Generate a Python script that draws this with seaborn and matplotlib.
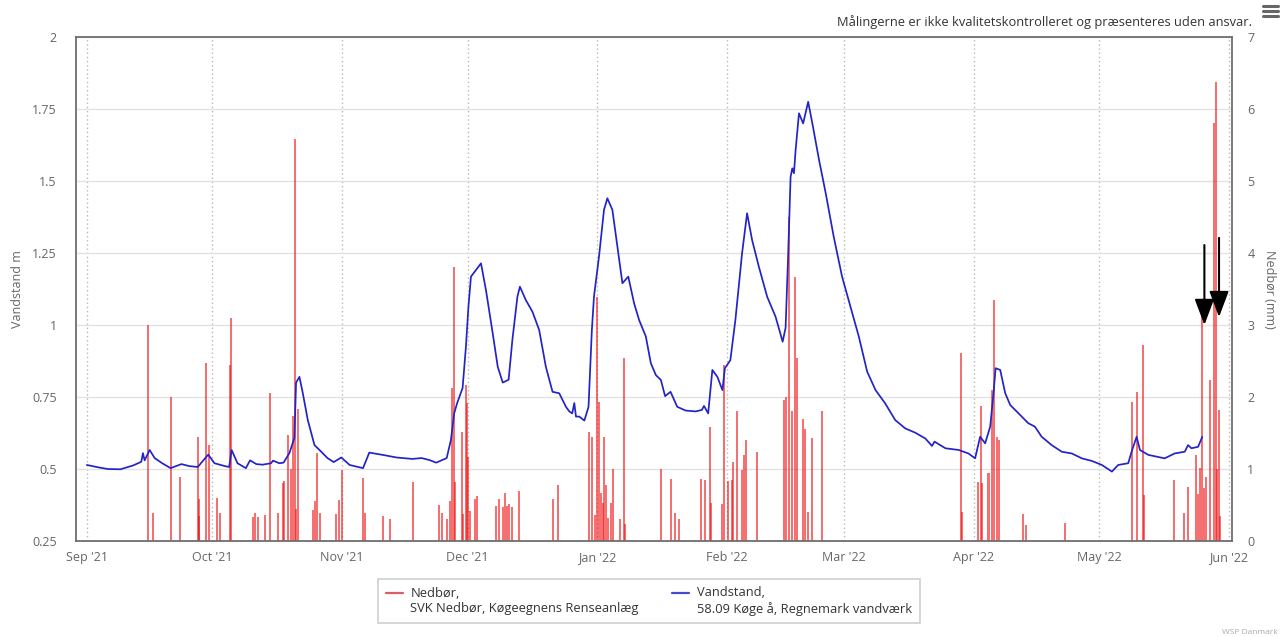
import numpy as np
import pandas as pd
import matplotlib
matplotlib.use("Agg")
import matplotlib.pyplot as plt
import matplotlib.dates as mdates
from matplotlib.lines import Line2D
from matplotlib.legend_handler import HandlerLine2D
import seaborn as sns

# Day offsets are counted from this date
START = pd.Timestamp("2021-09-01")

# Water level (m), Køge å at Regnemark vandværk
level_day = [0, 3, 5, 8, 11, 13, 13.4, 13.8, 15, 16.2, 18, 20, 22.6, 24.5, 26.5, 29, 30.5, 33,
             34, 34.6, 36, 38, 39, 40.5, 42, 44, 44.5, 46, 47, 48.4, 49.6, 50, 50.8, 51.6, 52.8,
             54.4, 55.6, 57.5, 59, 60.8, 62.8, 66, 67.5, 70.7, 74, 77.8, 80, 81.9, 83.5, 86, 87,
             87.8, 88.5, 89.8, 90.6, 91.2, 91.8, 93, 94.2, 95.4, 97, 98.2, 99.4, 100.8, 101.7,
             102.9, 103.5, 104.9, 106.5, 108.1, 109.7, 111.3, 112.9, 114.5, 115.3, 116, 116.5, 116.9,
             117.7, 118.9, 119.9, 120.7, 121.2, 122.4, 123.6, 124.4, 125.6, 126.8, 128, 129.4,
             130.8, 132, 133.6, 134.8, 136, 137.2, 138.2, 139.5, 141.1, 143.1, 145.5, 147, 147.5,
             148.5, 149.5, 150.7, 151.9, 152.5, 153.8, 155, 156.6, 157.8, 159, 160.6, 162.6,
             164.6, 166.3, 167, 167.6, 168.2, 168.6, 169, 169.4, 170.2, 171.2, 172.4, 173.4, 175,
             176.6, 178.5, 180.5, 182.5, 184.5, 186.5, 188.5, 190.8, 193.2, 195.6, 198, 200.4,
             202, 202.6, 205.2, 208.4, 210.7, 212.3, 213.5, 214.7, 215.9, 216.7, 217.2, 218.3,
             219.5, 220.7, 222.7, 225, 226.6, 228.2, 230.6, 233, 235.4, 237.8, 240.2, 242.6, 245,
             246.5, 248.9, 249.7, 250.9, 251.7, 253.7, 257.6, 260, 262.4, 263.2, 264, 265.6, 266.6]
level_m = [0.514, 0.505, 0.50, 0.499, 0.512, 0.525, 0.555, 0.53, 0.566, 0.538, 0.52, 0.503, 0.517,
           0.51, 0.507, 0.55, 0.52, 0.51, 0.507, 0.566, 0.52, 0.503, 0.53, 0.517, 0.515, 0.52,
           0.529, 0.52, 0.522, 0.555, 0.608, 0.80, 0.82, 0.764, 0.67, 0.583, 0.566, 0.538, 0.524,
           0.54, 0.514, 0.503, 0.557, 0.549, 0.54, 0.535, 0.538, 0.531, 0.522, 0.538, 0.60, 0.694,
           0.729, 0.781, 0.925, 1.064, 1.168, 1.191, 1.214, 1.12, 0.971, 0.855, 0.80, 0.81, 0.948,
           1.098, 1.133, 1.087, 1.046, 0.983, 0.855, 0.768, 0.763, 0.716, 0.70, 0.693, 0.729, 0.682,
           0.682, 0.668, 0.716, 0.983, 1.098, 1.237, 1.40, 1.44, 1.40, 1.272, 1.145, 1.168, 1.075,
           1.017, 0.96, 0.867, 0.826, 0.809, 0.753, 0.768, 0.716, 0.703, 0.70, 0.705, 0.719, 0.693,
           0.844, 0.82, 0.774, 0.85, 0.878, 1.017, 1.249, 1.388, 1.295, 1.203, 1.098, 1.029, 0.942,
           0.99, 1.237, 1.515, 1.544, 1.527, 1.608, 1.735, 1.70, 1.775, 1.70, 1.573, 1.457, 1.307,
           1.168, 1.064, 0.96, 0.838, 0.774, 0.728, 0.67, 0.641, 0.626, 0.606, 0.58, 0.595, 0.572,
           0.566, 0.554, 0.537, 0.612, 0.589, 0.647, 0.763, 0.85, 0.844, 0.763, 0.722, 0.693,
           0.659, 0.647, 0.612, 0.583, 0.56, 0.554, 0.537, 0.528, 0.514, 0.491, 0.514, 0.52, 0.56,
           0.612, 0.566, 0.549, 0.537, 0.554, 0.56, 0.583, 0.572, 0.577, 0.612]

# Precipitation (mm), SVK Køgeegnens Renseanlæg
rain_day = [14.5, 15.7, 20.2, 22.2, 26.5, 26.7, 26.8, 28.4, 29.2, 31.0, 31.8, 34.3, 34.4, 39.8,
            40.2, 40.8, 42.6, 43.7, 45.7, 46.9, 47.2, 48.1, 48.8, 49.2, 49.7, 50.0, 50.5, 54.1,
            54.5, 54.9, 55.7, 59.5, 60.3, 60.9, 66.1, 66.5, 70.7, 72.4, 77.9, 84.2, 84.8, 86.0,
            86.8, 87.3, 87.7, 88.0, 89.6, 90.0, 90.6, 90.9, 91.2, 91.6, 92.8, 93.2, 97.8, 98.6,
            99.4, 99.9, 100.3, 100.9, 101.6, 103.3, 111.5, 112.7, 120.1, 120.7, 121.4, 121.9,
            122.5, 122.8, 123.3, 123.7, 124.1, 124.6, 125.2, 125.7, 127.4, 128.3, 128.6, 137.2,
            139.5, 140.6, 141.6, 146.7, 147.7, 148.9, 149.2, 151.7, 152.3, 153.2, 154.1, 154.5,
            155.5, 156.7, 157.1, 157.5, 160.1, 166.6, 167.1, 167.7, 168.5, 169.3, 169.7, 171.1,
            171.6, 172.4, 173.4, 175.6, 208.9, 209.1, 213.1, 213.6, 214.0, 215.5, 216.3, 216.9,
            217.5, 217.9, 223.8, 224.4, 233.8, 249.7, 250.9, 252.4, 252.6, 259.9, 262.3, 263.1,
            265.0, 265.6, 266.1, 266.5, 266.9, 267.4, 268.5, 269.5, 269.8, 270.2, 270.6, 270.9]
rain_mm = [3.0, 0.39, 2.0, 0.89, 1.45, 0.58, 0.35, 2.47, 1.33, 0.6, 0.39, 2.44, 3.1, 0.34,
           0.39, 0.33, 0.36, 2.05, 0.39, 0.8, 0.83, 1.47, 1.0, 1.73, 5.59, 0.45, 1.84, 0.43,
           0.56, 1.22, 0.39, 0.38, 0.57, 0.99, 0.87, 0.39, 0.35, 0.30, 0.82, 0.5, 0.39, 0.31,
           0.55, 2.12, 3.81, 0.82, 1.52, 0.38, 2.17, 1.92, 1.17, 0.41, 0.59, 0.62, 0.48, 0.59,
           0.47, 0.66, 0.48, 0.52, 0.47, 0.69, 0.59, 0.78, 1.52, 1.45, 0.36, 3.39,
           1.93, 0.67, 0.53, 1.45, 0.78, 0.32, 0.53, 1.0, 0.30, 2.54, 0.23, 1.0,
           0.86, 0.39, 0.30, 0.86, 0.85, 1.59, 0.53, 0.52, 2.44, 0.83, 0.85, 1.10,
           1.80, 0.99, 1.19, 1.40, 1.24, 1.96, 2.0, 4.5, 1.80, 3.67, 2.54, 1.70,
           1.56, 0.40, 1.43, 1.80, 2.61, 0.4, 0.82, 1.87, 0.8, 0.94, 2.10, 3.35,
           1.45, 1.4, 0.38, 0.22, 0.25, 1.93, 2.07, 2.72, 0.64, 0.85, 0.39, 0.75,
           1.19, 0.65, 1.01, 3.14, 0.73, 0.89, 2.24, 5.80, 6.38, 1.0, 1.82, 0.35]

# Marked rain events: day, arrow tip (mm) and arrow tail (mm)
arrow_day = [267.1, 270.6]
arrow_tip = [3.0, 3.11]
arrow_tail = [4.11, 4.21]

level_ticks = [0.25, 0.5, 0.75, 1.0, 1.25, 1.5, 1.75, 2.0]
level_ticklabels = ["0.25", "0.5", "0.75", "1", "1.25", "1.5", "1.75", "2"]
rain_ticks = [0, 1, 2, 3, 4, 5, 6, 7]

sns.set_theme(style="white")
plt.rcParams["font.family"] = ["Open Sans", "DejaVu Sans"]

W, H = 1280, 637
fig = plt.figure(figsize=(W / 100, H / 100), dpi=100)
L, R, T, B = 76, 1232, 37, 541
ax_rain = fig.add_axes([L / W, 1 - B / H, (R - L) / W, (B - T) / H])
ax_level = ax_rain.twinx()

days = lambda d: START + pd.to_timedelta(np.asarray(d, dtype=float), unit="D")

# Precipitation columns on the right axis
ax_rain.bar(days(rain_day), rain_mm, width=0.48, color="#f01818", alpha=0.62,
            linewidth=0, zorder=2)

# Water level line on the left axis
level_df = pd.DataFrame({"time": days(level_day), "level": level_m})
sns.lineplot(data=level_df, x="time", y="level", ax=ax_level, color="#2323c8",
             linewidth=1.25, zorder=3)

# Axis layout
ax_rain.yaxis.tick_right()
ax_rain.yaxis.set_label_position("right")
ax_level.yaxis.tick_left()
ax_level.yaxis.set_label_position("left")

ax_rain.set_ylim(0, 7)
ax_rain.set_yticks(rain_ticks)
ax_level.set_ylim(0.25, 2)
ax_level.set_yticks(level_ticks)
ax_level.set_yticklabels(level_ticklabels)

ax_rain.set_xlim(START - pd.Timedelta(days=2.6), START + pd.Timedelta(days=273.7))
ax_rain.xaxis.set_major_locator(mdates.MonthLocator())
ax_rain.xaxis.set_major_formatter(mdates.DateFormatter("%b '%y"))

ax_rain.set_axisbelow(True)
ax_rain.grid(axis="y", color="#e2e2e2", linewidth=1, linestyle="-")
ax_rain.grid(axis="x", color="#b8b8b8", linewidth=1, linestyle=(0, (1, 2)))

for sp in ax_rain.spines.values():
    sp.set_visible(True)
    sp.set_color("#6e6e6e")
    sp.set_linewidth(1.3)
for sp in ax_level.spines.values():
    sp.set_visible(False)

tick_kw = dict(length=0, labelsize=9, labelcolor="#666666")
ax_rain.tick_params(axis="x", pad=7, **tick_kw)
ax_rain.tick_params(axis="y", pad=11, **tick_kw)
ax_level.tick_params(axis="y", pad=14, **tick_kw)

ax_level.set_xlabel("")
ax_level.set_ylabel("Vandstand m", fontsize=9, color="#666666")
ax_level.yaxis.label.set(va="center", ha="center")
ax_level.yaxis.set_label_coords((18 - L) / (R - L), 0.5)
ax_rain.set_ylabel("Nedbør (mm)", fontsize=9, color="#666666", rotation=270)
ax_rain.yaxis.label.set(va="center", ha="center")
ax_rain.yaxis.set_label_coords((1270 - L) / (R - L), 0.5)

# Arrows marking the late-May rain events
for d, tip, tail in zip(arrow_day, arrow_tip, arrow_tail):
    ax_rain.annotate("", xy=(days([d])[0], tip), xytext=(days([d])[0], tail),
                     arrowprops=dict(arrowstyle="-|>,head_length=0.8,head_width=0.3",
                                     mutation_scale=20, color="black", lw=1.5,
                                     shrinkA=0, shrinkB=0), zorder=5)

# Disclaimer and menu icon
fig.text(1252 / W, 1 - 22 / H,
         "Målingerne er ikke kvalitetskontrolleret og præsenteres uden ansvar.",
         ha="right", va="center", fontsize=9.3, color="#333333")
for yy in (6, 11, 16):
    fig.add_artist(Line2D([1263 / W, 1278 / W], [1 - yy / H, 1 - yy / H],
                          transform=fig.transFigure, color="#666666", linewidth=2.2))
fig.text(1222 / W, 1 - 632 / H, "WSP Danmark", fontsize=6, color="#aaaaaa", va="center")


class TopAlignedLine(HandlerLine2D):
    """Legend line placed beside the first line of a two-line label."""
    def create_artists(self, legend, orig_handle, xdescent, ydescent, width, height,
                       fontsize, trans):
        arts = super().create_artists(legend, orig_handle, xdescent, ydescent, width,
                                      height, fontsize, trans)
        for a in arts:
            if isinstance(a, Line2D):
                a.set_ydata(np.asarray(a.get_ydata()) + 0.62 * fontsize)
        return arts


handles = [Line2D([], [], color="#e05a6a", linewidth=1.6),
           Line2D([], [], color="#4a4ad0", linewidth=1.6)]
labels = ["Nedbør,\nSVK Nedbør, Køgeegnens Renseanlæg",
          "Vandstand,\n58.09 Køge å, Regnemark vandværk"]
leg = fig.legend(handles, labels, loc="center", bbox_to_anchor=(649 / W, 1 - 601 / H),
                 ncol=2, frameon=True, fancybox=False, fontsize=9.3, handlelength=1.3,
                 handletextpad=0.6, columnspacing=2.6, borderpad=0.6,
                 handler_map={Line2D: TopAlignedLine()})
leg.get_frame().set_edgecolor("#c4c4c4")
leg.get_frame().set_linewidth(1.2)
for t in leg.get_texts():
    t.set_color("#333333")

fig.savefig("out.png", dpi=100)
